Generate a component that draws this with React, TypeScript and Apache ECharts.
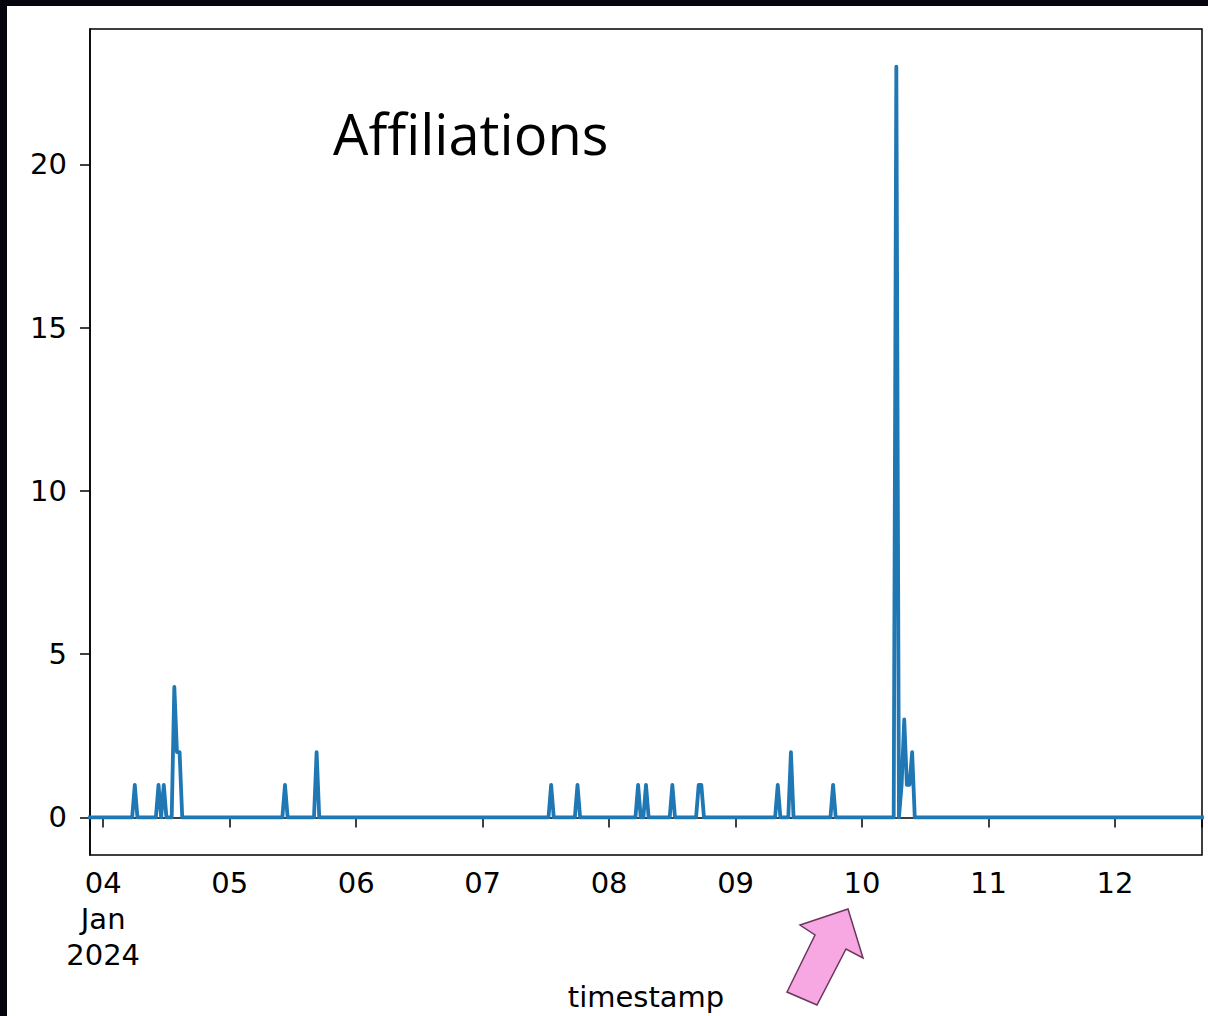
import React, { useEffect, useRef } from 'react';
import * as echarts from 'echarts';

// ---- data ----
const xStart = '2024-01-03 21:30';
const xEnd = '2024-01-12 16:30';
const dayTicks = ['2024-01-04', '2024-01-05', '2024-01-06', '2024-01-07', '2024-01-08', '2024-01-09', '2024-01-10', '2024-01-11', '2024-01-12'];
const dayLabels = ['04\nJan\n2024', '05', '06', '07', '08', '09', '10', '11', '12'];
const yTicks = [0, 5, 10, 15, 20];
const yMin = -1.15;
const yMax = 24.15;
const xName = 'timestamp';
const titleText = 'Affiliations';

const times = [
  '2024-01-03 21:30',
  '2024-01-04 05:30', '2024-01-04 06:00', '2024-01-04 06:30',
  '2024-01-04 10:00', '2024-01-04 10:30', '2024-01-04 11:00', '2024-01-04 11:30', '2024-01-04 12:00',
  '2024-01-04 13:00', '2024-01-04 13:30', '2024-01-04 14:00', '2024-01-04 14:30', '2024-01-04 15:00',
  '2024-01-05 10:00', '2024-01-05 10:30', '2024-01-05 11:00',
  '2024-01-05 16:00', '2024-01-05 16:30', '2024-01-05 17:00',
  '2024-01-07 12:30', '2024-01-07 13:00', '2024-01-07 13:30',
  '2024-01-07 17:30', '2024-01-07 18:00', '2024-01-07 18:30',
  '2024-01-08 05:00', '2024-01-08 05:30', '2024-01-08 06:00', '2024-01-08 06:30', '2024-01-08 07:00', '2024-01-08 07:30',
  '2024-01-08 11:30', '2024-01-08 12:00', '2024-01-08 12:30',
  '2024-01-08 16:30', '2024-01-08 17:00', '2024-01-08 17:30', '2024-01-08 18:00',
  '2024-01-09 07:30', '2024-01-09 08:00', '2024-01-09 08:30',
  '2024-01-09 10:00', '2024-01-09 10:30', '2024-01-09 11:00',
  '2024-01-09 18:00', '2024-01-09 18:30', '2024-01-09 19:00',
  '2024-01-10 06:00', '2024-01-10 06:30', '2024-01-10 07:00', '2024-01-10 07:30', '2024-01-10 08:00',
  '2024-01-10 08:30', '2024-01-10 09:00', '2024-01-10 09:30', '2024-01-10 10:00',
  '2024-01-12 16:30',
];
const values = [
  0,
  0, 1, 0,
  0, 1, 0, 1, 0,
  0, 4, 2, 2, 0,
  0, 1, 0,
  0, 2, 0,
  0, 1, 0,
  0, 1, 0,
  0, 1, 0, 0, 1, 0,
  0, 1, 0,
  0, 1, 1, 0,
  0, 1, 0,
  0, 2, 0,
  0, 1, 0,
  0, 23, 0, 1, 3,
  1, 1, 2, 0,
  0,
];

// arrow annotation outline (page pixels)
const arrowPoints = [
  [848, 909], [863, 958], [846, 949], [817, 1005], [787, 992], [815, 935], [800, 925],
];

const OFF_X = 7;
const OFF_Y = 6;

function toMs(s: string): number {
  const [d, t = '00:00'] = s.split(' ');
  const [Y, M, D] = d.split('-').map(Number);
  const [h, m] = t.split(':').map(Number);
  return Date.UTC(Y, M - 1, D, h, m);
}

export default function App() {
  const ref = useRef<HTMLDivElement>(null);
  useEffect(() => {
    if (!ref.current) return;
    const chart = echarts.init(ref.current, null, { renderer: 'svg' });
    const tickMs = dayTicks.map(toMs);
    const data = times.map((t, i) => [toMs(t), values[i]]);
    const font = '"DejaVu Sans", sans-serif';
    chart.setOption({
      animation: false,
      backgroundColor: '#ffffff',
      grid: {
        left: 83, top: 23, right: 6, bottom: 160,
        show: true, borderColor: '#000', borderWidth: 1.5, backgroundColor: 'transparent',
      },
      xAxis: {
        type: 'value',
        min: toMs(xStart),
        max: toMs(xEnd),
        name: xName,
        nameLocation: 'middle',
        nameGap: 127,
        nameTextStyle: { fontFamily: font, fontSize: 29, color: '#000' },
        axisLine: { show: true, lineStyle: { color: '#000', width: 1.5 } },
        axisTick: {
          show: true, length: 10, inside: false,
          lineStyle: { color: '#000', width: 1.5 },
          customValues: [toMs(xStart), ...tickMs, toMs(xEnd)],
        },
        axisLabel: {
          show: true,
          margin: 10,
          fontFamily: font, fontSize: 29, color: '#000', lineHeight: 36,
          customValues: tickMs,
          formatter: (v: number) => {
            const i = tickMs.indexOf(v);
            return i >= 0 ? dayLabels[i] : '';
          },
        },
        splitLine: { show: false },
      },
      yAxis: {
        type: 'value',
        min: yMin,
        max: yMax,
        axisLine: { show: true, lineStyle: { color: '#000', width: 1.5 } },
        axisTick: {
          show: true, length: 10, inside: false,
          lineStyle: { color: '#000', width: 1.5 },
          customValues: yTicks,
        },
        axisLabel: {
          show: true, margin: 23,
          fontFamily: font, fontSize: 29, color: '#000',
          customValues: yTicks,
        },
        splitLine: { show: false },
      },
      series: [
        {
          type: 'line',
          data,
          symbol: 'none',
          lineStyle: { color: '#1f77b4', width: 3.8, join: 'round', cap: 'square' },
          clip: true,
        },
      ],
      graphic: [
        {
          type: 'text',
          x: 333 - OFF_X,
          y: 133 - OFF_Y,
          style: {
            text: titleText,
            font: '56px "Open Sans", sans-serif',
            fill: '#000',
            verticalAlign: 'middle',
            align: 'left',
          },
        },
        {
          type: 'polygon',
          shape: { points: arrowPoints.map(([x, y]) => [x - OFF_X, y - OFF_Y]) },
          style: { fill: '#f7a8e3', stroke: '#6b3560', lineWidth: 1.5 },
        },
      ],
    });
    return () => chart.dispose();
  }, []);
  return (
    <div style={{ position: 'fixed', left: 0, top: 0, width: 1208, height: 1016, background: '#05050d' }}>
      <div
        ref={ref}
        style={{ position: 'absolute', left: OFF_X, top: OFF_Y, width: 1208 - OFF_X, height: 1016 - OFF_Y, background: '#fff' }}
      />
    </div>
  );
}
